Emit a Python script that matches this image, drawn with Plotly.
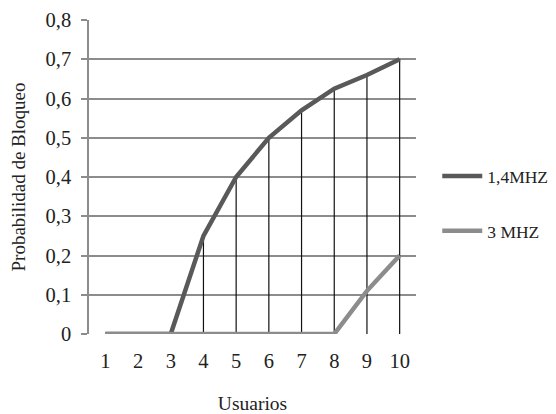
import plotly.graph_objects as go

usuarios = [1, 2, 3, 4, 5, 6, 7, 8, 9, 10]
serie_14 = [0, 0, 0, 0.25, 0.40, 0.50, 0.57, 0.625, 0.66, 0.70]
serie_3 = [0, 0, 0, 0, 0, 0, 0, 0, 0.11, 0.20]
nombres = ["1,4MHZ", "3 MHZ"]
y_ticks = [0, 0.1, 0.2, 0.3, 0.4, 0.5, 0.6, 0.7, 0.8]
y_ticktext = ["0", "0,1", "0,2", "0,3", "0,4", "0,5", "0,6", "0,7", "0,8"]

FONT = "Liberation Serif, Times New Roman, serif"

# drop lines from each point of the 1,4MHZ series down to the axis
drop_x, drop_y = [], []
for u, v in zip(usuarios, serie_14):
    drop_x += [u, u, None]
    drop_y += [0, v, None]

fig = go.Figure()
fig.add_trace(go.Scatter(x=drop_x, y=drop_y, mode="lines",
                         line=dict(color="#111111", width=1.2),
                         showlegend=False, hoverinfo="skip"))
fig.add_trace(go.Scatter(x=usuarios, y=serie_14, mode="lines", name=nombres[0],
                         legendgroup="a",
                         line=dict(color="#595959", width=4.5)))
fig.add_trace(go.Scatter(x=usuarios, y=serie_3, mode="lines", name=nombres[1],
                         legendgroup="b",
                         line=dict(color="#8c8c8c", width=4.5)))

fig.update_layout(
    width=556, height=414,
    margin=dict(l=89, r=140, t=20, b=80, autoexpand=False),
    paper_bgcolor="white", plot_bgcolor="white",
    font=dict(family=FONT, size=20, color="#222222"),
    legend=dict(x=1.065, xanchor="left", y=0.415, yanchor="middle",
                font=dict(family=FONT, size=17.5, color="#222222"),
                tracegroupgap=29, traceorder="grouped",
                bgcolor="rgba(0,0,0,0)", itemwidth=40),
    xaxis=dict(range=[0.5, 10.5], tickmode="array", tickvals=usuarios,
               ticktext=[str(u) for u in usuarios], automargin=False,
               showgrid=False, zeroline=False, showline=False,
               ticks="", ticklabelstandoff=12,
               tickfont=dict(family=FONT, size=20.5, color="#222222"),
               title=dict(text="Usuarios", standoff=26,
                          font=dict(family=FONT, size=19.5, color="#222222"))),
    yaxis=dict(range=[0, 0.8], tickmode="array", tickvals=y_ticks,
               ticktext=y_ticktext, automargin=False,
               showgrid=True, gridcolor="#8c8c8c", gridwidth=1.5,
               zeroline=False, showline=True, linecolor="#8c8c8c", linewidth=1.5,
               ticks="outside", ticklen=6, tickcolor="#8c8c8c", tickwidth=1.5,
               ticklabelstandoff=6,
               tickfont=dict(family=FONT, size=20.5, color="#222222"),
               title=dict(text="Probabilidad de Bloqueo", standoff=15,
                          font=dict(family=FONT, size=19, color="#222222"))),
)

fig.write_html("out.html")
